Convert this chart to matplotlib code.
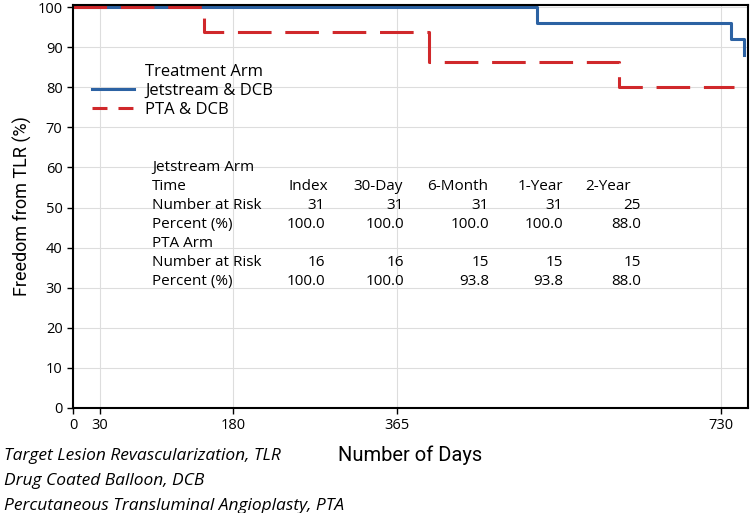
import numpy as np
import matplotlib
matplotlib.use("Agg")
from matplotlib import pyplot as plt
from matplotlib.lines import Line2D

# Kaplan-Meier steps
jet_days = [0, 523, 741, 755]
jet_surv = [100, 96, 92, 88]
pta_days = [0, 147, 401, 615, 744]
pta_surv = [100, 93.8, 86.2, 80, 80]

xticks = [0, 30, 180, 365, 730]
yticks = list(range(0, 101, 10))

# at-risk table
col_names = ["Index", "30-Day", "6-Month", "1-Year", "2-Year"]
jet_risk = ["31", "31", "31", "31", "25"]
jet_pct = ["100.0", "100.0", "100.0", "100.0", "88.0"]
pta_risk = ["16", "16", "15", "15", "15"]
pta_pct = ["100.0", "100.0", "93.8", "93.8", "88.0"]

footnotes = ["Target Lesion Revascularization, TLR",
             "Drug Coated Balloon, DCB",
             "Percutaneous Transluminal Angioplasty, PTA"]

blue = "#2c62a3"
red = "#d0282b"
tfont = "Open Sans"

fig = plt.figure(figsize=(7.5, 5.13), dpi=100)
ax = fig.add_axes([0.0973, 0.2047, 0.9, 0.7853])

ax.step(jet_days, jet_surv, where="post", color=blue, lw=2.2)
ax.step(pta_days, pta_surv, where="post", color=red, lw=2.2,
        linestyle=(0, (11, 4.5)))

ax.set_xlim(0, 760)
ax.set_ylim(0, 100.5)
ax.set_xticks(xticks)
ax.set_yticks(yticks)
ax.grid(True, color="#dddddd", lw=0.8)
ax.set_axisbelow(True)
for s in ax.spines.values():
    s.set_linewidth(1.5)
    s.set_color("black")
ax.tick_params(direction="out", length=4, width=1, labelsize=10.5)
for lab in ax.get_xticklabels() + ax.get_yticklabels():
    lab.set_fontfamily(tfont)

ax.set_ylabel("Freedom from TLR (%)", fontsize=13, fontfamily="Roboto", labelpad=4)

handles = [Line2D([], [], color="none"),
           Line2D([], [], color=blue, lw=2.2),
           Line2D([], [], color=red, lw=2.2, linestyle=(0, (4.9, 3.6)))]
labels = ["Treatment Arm", "Jetstream & DCB", "PTA & DCB"]
ax.legend(handles, labels, loc="upper left", bbox_to_anchor=(0.028, 0.853),
          frameon=False, borderpad=0, borderaxespad=0,
          handlelength=2.5, handletextpad=0.7, labelspacing=0.16,
          prop={"family": tfont, "size": 12})

# table text, in figure pixels
W, H = 750, 513
def put(x, y, s, ha="left"):
    fig.text(x / W, 1 - y / H, s, ha=ha, va="center", fontsize=11,
             fontfamily=tfont)

row_y = [168 + 18.9 * i for i in range(7)]
hdr_x = [289, 353, 427, 518, 585]
val_x = [325, 404, 489, 563, 641]

put(152, row_y[0], "Jetstream Arm")
put(152, row_y[1], "Time")
put(152, row_y[2], "Number at Risk")
put(152, row_y[3], "Percent (%)")
put(152, row_y[4], "PTA Arm")
put(152, row_y[5], "Number at Risk")
put(152, row_y[6], "Percent (%)")
for i in range(5):
    put(hdr_x[i], row_y[1], col_names[i])
    put(val_x[i], row_y[2], jet_risk[i], ha="right")
    put(val_x[i], row_y[3], jet_pct[i], ha="right")
    put(val_x[i], row_y[5], pta_risk[i], ha="right")
    put(val_x[i], row_y[6], pta_pct[i], ha="right")

fig.text(410 / W, 1 - 455 / H, "Number of Days", ha="center", va="center",
         fontsize=14.5, fontfamily="Roboto")
for i, t in enumerate(footnotes):
    fig.text(4 / W, 1 - (456 + 25 * i) / H, t, ha="left", va="center",
             fontsize=12.5, style="italic", fontfamily=tfont)

fig.savefig("out.png", dpi=100)
